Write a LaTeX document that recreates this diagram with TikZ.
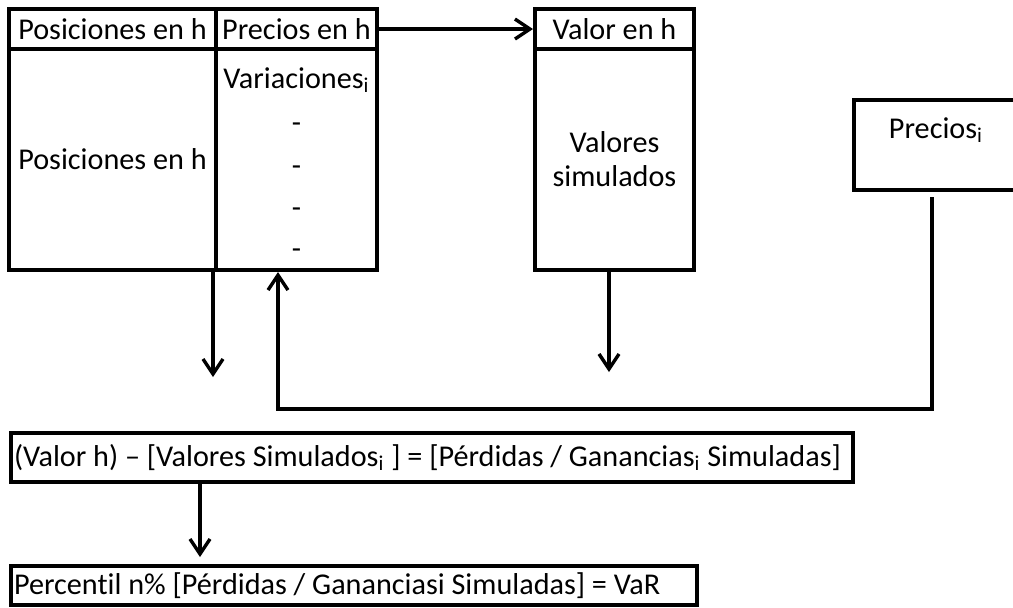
\documentclass[tikz,border=0pt]{standalone}
\usepackage{fontspec}
\setmainfont{Carlito}[Ligatures=NoCommon]
\usetikzlibrary{arrows.meta}
\tikzset{
  cell/.style={draw, line width=2pt, inner sep=0pt, minimum height=20pt},
  conn/.style={line width=1.7pt},
  arr/.style={conn, -{Straight Barb[length=7.5pt,width=10pt]}},
}
\begin{document}
\begin{tikzpicture}[x=0.5pt, y=-0.5pt, font=\fontsize{15.1pt}{17pt}\selectfont]
      \useasboundingbox (0,0) rectangle (1013,607);
      % tabla de posiciones y precios
      \node[cell, minimum width=103.5pt] (ph) at (112.5,29) {Posiciones en h};
      \node[cell, minimum width=80.5pt] (pr) at (296.5,29) {Precios en h};
      \node[cell, minimum width=103.5pt, minimum height=110.5pt] (pb) at (112.5,159.5) {Posiciones en h};
      \node[cell, minimum width=80.5pt, minimum height=110.5pt] (vb) at (296.5,159.5) {};
      \node (var) at (296.5,80) {Variaciones\textsubscript{i}};
      \foreach \y [count=\k] in {128,171,213,254}
        \node (d\k) at (296.5,\y) {-};
      % valor
      \node[cell, minimum width=79.5pt] (vh) at (614.5,29) {Valor en h};
      \node[cell, minimum width=79.5pt, minimum height=110.5pt, align=center] (vs) at (614.5,159.5) {Valores\\simulados};
      % precios simulados
      \node[cell, minimum width=83pt, minimum height=45pt] (pi) at (937,145) {};
      \node (pit) at (936,130) {Precios\textsubscript{i}};
      % resultados
      \node[cell, anchor=west, inner xsep=1.5pt, minimum height=24.5pt] (r1) at (9,457.5)
        {\makebox[418pt][l]{(Valor h) -- [Valores Simulados\textsubscript{i} ] = [Pérdidas / Ganancias\textsubscript{i} Simuladas]}};
      \node[cell, anchor=west, inner xsep=1.5pt, minimum height=19.5pt] (r2) at (9,585.5)
        {\makebox[340pt][l]{Percentil n\% [Pérdidas / Gananciasi Simuladas] = VaR}};
      \coordinate (e1) at (213,377);
      \coordinate (e2) at (609,372);
      \coordinate (e3) at (200,557);
      \coordinate (c1) at (278,409);
      \draw[arr] (pr.east) to (vh.west);
      \draw[arr] (e1 |- pb.south) to (e1);
      \draw[arr] (e2 |- vs.south) to (e2);
      \draw[arr] ([xshift=-2.5pt,yshift=-2.5pt]pi.south) |- (c1) to (c1 |- vb.south);
      \draw[arr] (e3 |- r1.south) to (e3);
    \end{tikzpicture}
\end{document}
